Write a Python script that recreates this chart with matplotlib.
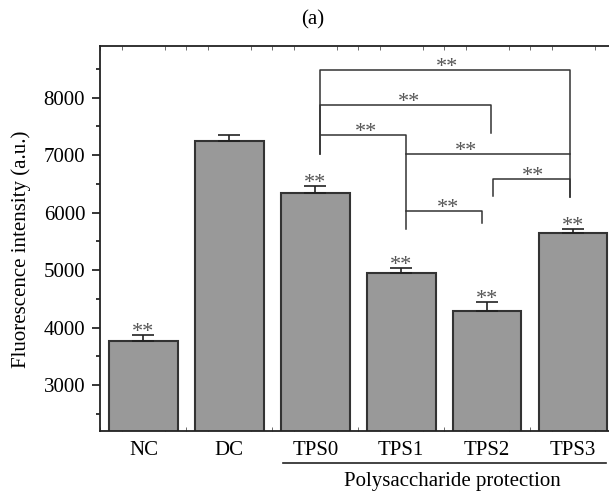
import numpy as np
import matplotlib.pyplot as plt
from matplotlib.ticker import MultipleLocator
from matplotlib.transforms import ScaledTranslation

plt.rcParams['font.family'] = ['Liberation Serif', 'DejaVu Serif']

groups = ['NC', 'DC', 'TPS0', 'TPS1', 'TPS2', 'TPS3']
means = [3770, 7250, 6340, 4955, 4295, 5640]
errs = [100, 105, 130, 80, 155, 80]
bar_marks = ['**', '', '**', '**', '**', '**']

# brackets: x start, x end, top, left leg end, right leg end, star x
br_x0 = [2.05, 2.05, 2.07, 3.05, 4.07, 3.05]
br_x1 = [4.97, 4.04, 3.05, 4.97, 4.97, 3.94]
br_top = [8480, 7880, 7355, 7020, 6590, 6031]
br_left = [7020, 7020, 7355, 7020, 6293, 6031]
br_right = [6280, 7385, 5718, 7020, 6280, 5827]
br_star = [3.53, 3.09, 2.59, 3.75, 4.53, 3.54]

fig = plt.figure(figsize=(6.09, 4.97), dpi=100)
ax = fig.add_axes([0.165, 0.1328, 0.8465, 0.7746])

x = np.arange(len(groups))
ax.bar(x, means, width=0.8, color='#999999', edgecolor='#333333', linewidth=1.5, zorder=2)
ax.errorbar(x, means, yerr=[np.zeros(len(errs)), errs], fmt='none', ecolor='#222222',
            elinewidth=1.2, capsize=8, capthick=1.2, zorder=3)

for xi, m, e, s in zip(x, means, errs, bar_marks):
    if s:
        ax.annotate(s, (xi, m + e), xytext=(0, -1.5), textcoords='offset points',
                    ha='center', va='baseline', fontsize=16, color='#555555')

for x0, x1, top, yl, yr, sx in zip(br_x0, br_x1, br_top, br_left, br_right, br_star):
    ax.plot([x0, x0, x1, x1], [yl, top, top, yr], color='#333333', lw=1.1, zorder=3)
    ax.annotate('**', (sx, top), xytext=(0, -1.5), textcoords='offset points',
                ha='center', va='baseline', fontsize=16, color='#555555')

ax.set_xlim(-0.5, 5.5)
ax.set_ylim(2200, 8900)
ax.set_xticks(x)
ax.set_xticklabels(groups, fontsize=15)
shift = ScaledTranslation(-0.05, 0, fig.dpi_scale_trans)
for lab in ax.get_xticklabels():
    lab.set_transform(lab.get_transform() + shift)
ax.set_yticks(np.arange(3000, 8001, 1000))
ax.yaxis.set_minor_locator(MultipleLocator(500))
ax.xaxis.set_minor_locator(MultipleLocator(0.25))
ax.tick_params(axis='x', which='major', length=0, pad=7)
ax.tick_params(axis='x', which='minor', direction='in', length=3, top=True, bottom=True, color='#555555')
ax.tick_params(axis='y', which='major', direction='out', length=6, width=1.1, labelsize=15, pad=5)
ax.tick_params(axis='y', which='minor', direction='out', length=3, width=1.1)
for sp in ax.spines.values():
    sp.set_linewidth(1.3)
    sp.set_color('#222222')
ax.set_ylabel('Fluorescence intensity (a.u.)', fontsize=15)
ax.yaxis.set_label_coords(-0.135, 0.473)

# group line under TPS bars
trans = ax.get_xaxis_transform()
ax.plot([2 - 0.38, 5 + 0.38], [-0.082, -0.082], transform=trans, color='#222222', lw=1.2, clip_on=False)
ax.text(3.6, -0.132, 'Polysaccharide protection', transform=trans, ha='center', va='center', fontsize=15)

fig.text(313 / 609, 1 - 20 / 497, '(a)', ha='center', va='center', fontsize=15)

fig.savefig('out.png', dpi=100)
